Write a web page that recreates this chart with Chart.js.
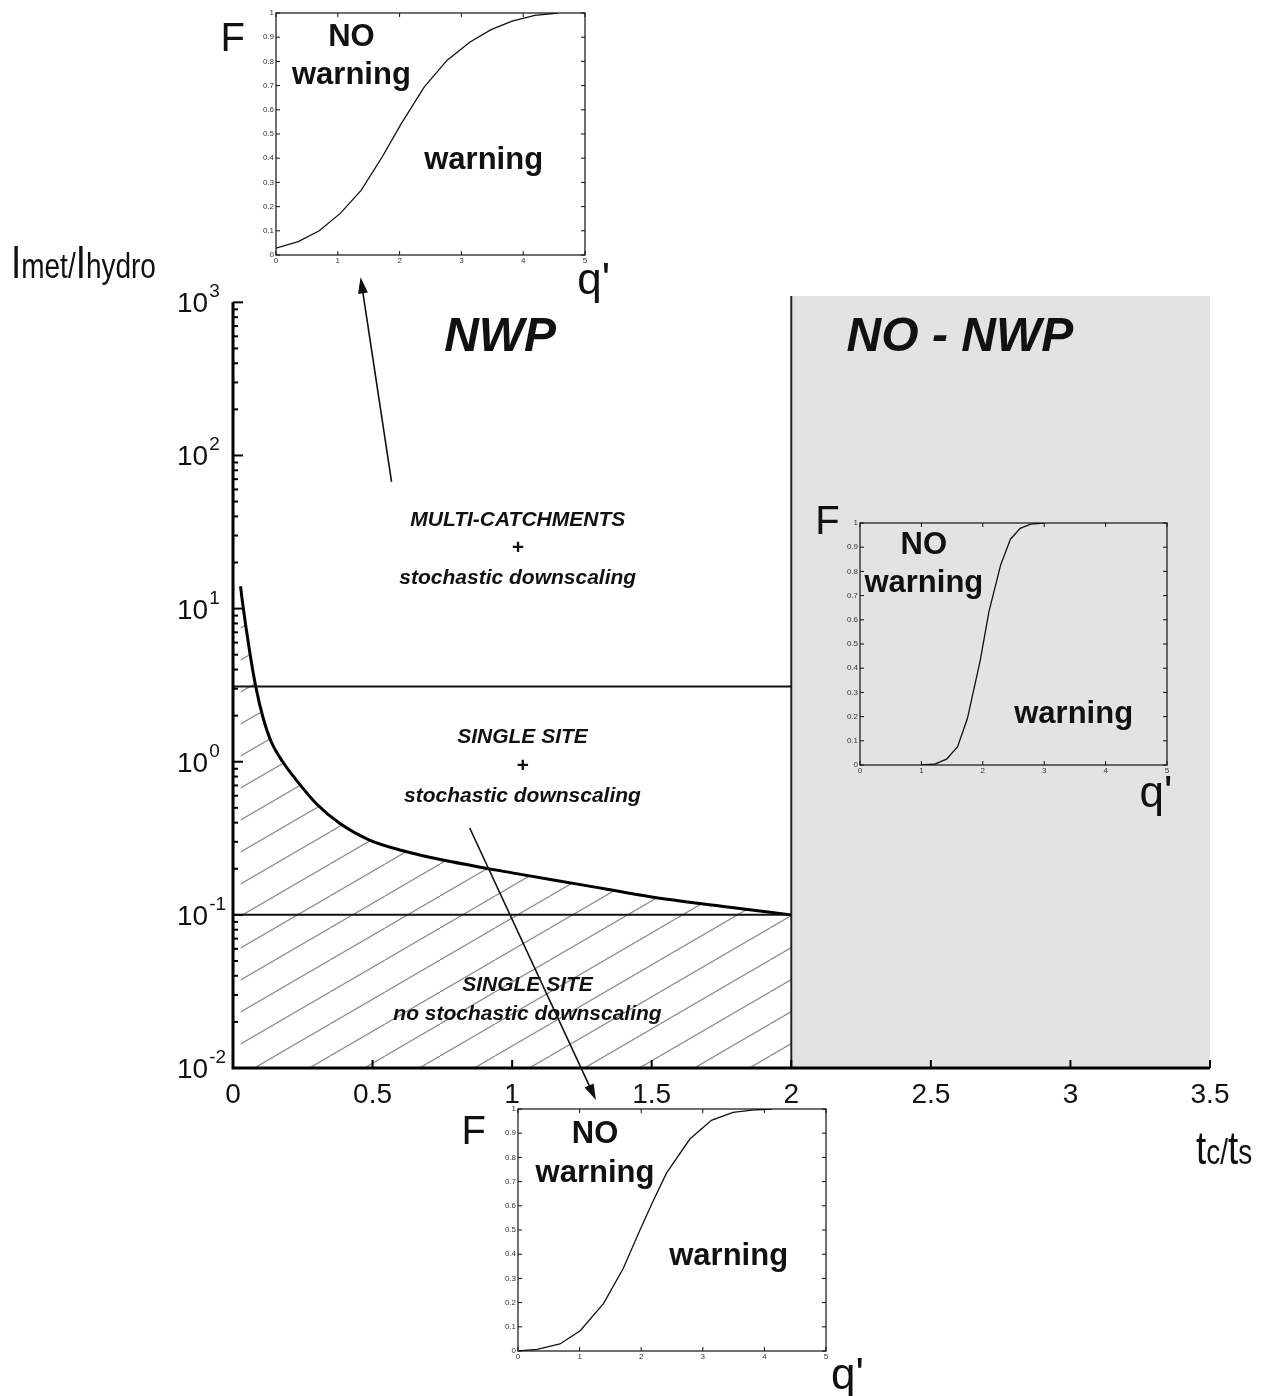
<!DOCTYPE html>
<html>
<head>
<meta charset="utf-8">
<script src="https://cdn.jsdelivr.net/npm/chart.js@4.4.1/dist/chart.umd.min.js"></script>
<style>
  html, body { margin: 0; padding: 0; background: #fff; }
  #wrap { position: relative; width: 1283px; height: 1396px; overflow: hidden; }
  canvas { position: absolute; }
</style>
</head>
<body>
<div id="wrap">
  <canvas id="main" width="1283" height="1396" style="left:0;top:0;width:1283px;height:1396px"></canvas>
  <canvas id="inset-top" width="420" height="310" style="left:210px;top:0;width:420px;height:310px"></canvas>
  <canvas id="inset-right" width="400" height="330" style="left:800px;top:495px;width:400px;height:330px"></canvas>
  <canvas id="inset-bottom" width="430" height="311" style="left:450px;top:1085px;width:430px;height:311px"></canvas>
</div>
<script>
const FONT = '"Liberation Sans", Arial, sans-serif';
Chart.defaults.font.family = FONT;
Chart.defaults.color = "#111";

// main diagram: t_c/t_s against I_met/I_hydro (log)
const ratioX = [0.027, 0.034, 0.059, 0.081, 0.107, 0.137, 0.178, 0.227, 0.298, 0.382, 0.489, 0.609, 0.704, 1.0, 1.25, 1.5, 1.75, 2.0];
const ratioY = [14, 11, 5.35, 3.13, 1.96, 1.35, 1.0, 0.759, 0.534, 0.396, 0.308, 0.262, 0.238, 0.188, 0.157, 0.131, 0.114, 0.1];
const upperLimit = 3.1;
const lowerLimit = 0.1;
const nwpLimit = 2;
const xMax = 3.5;
const yMin = 0.01;
const yMax = 1100;
const decades = [-2, -1, 0, 1, 2, 3];

// inset curves F(q')
const topQ = [0, 0.36, 0.70, 1.04, 1.38, 1.72, 2.03, 2.40, 2.77, 3.14, 3.48, 3.82, 4.19, 4.56];
const topF = [0.028, 0.055, 0.10, 0.172, 0.268, 0.406, 0.544, 0.695, 0.805, 0.88, 0.931, 0.966, 0.99, 1.0];
const rightQ = [0.99, 1.21, 1.41, 1.59, 1.75, 1.96, 2.10, 2.29, 2.45, 2.61, 2.78, 2.99];
const rightF = [0, 0.003, 0.024, 0.076, 0.193, 0.434, 0.634, 0.826, 0.933, 0.978, 0.995, 1.0];
const bottomQ = [0, 0.31, 0.68, 1.01, 1.39, 1.71, 1.98, 2.19, 2.41, 2.79, 3.14, 3.49, 3.87, 4.13];
const bottomF = [0, 0.007, 0.029, 0.084, 0.197, 0.342, 0.5, 0.618, 0.735, 0.876, 0.953, 0.986, 0.997, 1.0];

const pts = (xs, ys) => xs.map((x, i) => ({ x: x, y: ys[i] }));
const plain = (v) => String(+Number(v).toFixed(2));

function hatch() {
  const c = document.createElement("canvas");
  c.width = 55;
  c.height = 32;
  const g = c.getContext("2d");
  g.strokeStyle = "#8a8a8a";
  g.lineWidth = 1.2;
  for (const dx of [-55, 0, 55]) {
    g.beginPath();
    g.moveTo(dx, 32);
    g.lineTo(dx + 55, 0);
    g.stroke();
  }
  return g.createPattern(c, "repeat");
}

// text written in a condensed face, mixing sizes
function narrowText(ctx, parts, x, base) {
  ctx.save();
  ctx.translate(x, base);
  ctx.scale(0.8, 1);
  ctx.textAlign = "left";
  ctx.textBaseline = "alphabetic";
  let cx = 0;
  for (const [t, s] of parts) {
    ctx.font = s + "px " + FONT;
    ctx.fillText(t, cx, 0);
    cx += ctx.measureText(t).width;
  }
  ctx.restore();
}

function arrow(ctx, x1, y1, x2, y2) {
  const a = Math.atan2(y2 - y1, x2 - x1);
  ctx.beginPath();
  ctx.moveTo(x1, y1);
  ctx.lineTo(x2 - 10 * Math.cos(a), y2 - 10 * Math.sin(a));
  ctx.stroke();
  ctx.beginPath();
  ctx.moveTo(x2, y2);
  ctx.lineTo(x2 - 16 * Math.cos(a) + 5 * Math.sin(a), y2 - 16 * Math.sin(a) - 5 * Math.cos(a));
  ctx.lineTo(x2 - 16 * Math.cos(a) - 5 * Math.sin(a), y2 - 16 * Math.sin(a) + 5 * Math.cos(a));
  ctx.closePath();
  ctx.fill();
}

const regionNotes = [
  { text: "NWP", x: 0.957, y: 590, size: 48 },
  { text: "NO - NWP", x: 2.604, y: 590, size: 48 },
  { text: "MULTI-CATCHMENTS", x: 1.02, y: 37.8, size: 21 },
  { text: "+", x: 1.02, y: 24.8, size: 21 },
  { text: "stochastic downscaling", x: 1.02, y: 15.8, size: 21 },
  { text: "SINGLE SITE", x: 1.037, y: 1.447, size: 21 },
  { text: "+", x: 1.037, y: 0.936, size: 21 },
  { text: "stochastic downscaling", x: 1.037, y: 0.596, size: 21 },
  { text: "SINGLE SITE", x: 1.055, y: 0.0348, size: 21 },
  { text: "no stochastic downscaling", x: 1.055, y: 0.0225, size: 21 },
];

const arrows = [
  [0.568, 67.2, 0.457, 1456],
  [0.848, 0.369, 1.30, 0.00618],
];

const mainDecor = {
  id: "mainDecor",
  afterDatasetsDraw(chart) {
    const { ctx } = chart;
    const x = chart.scales.x;
    const y = chart.scales.y;
    const x0 = x.getPixelForValue(0);
    const yBot = y.getPixelForValue(yMin);
    const yTop = y.getPixelForValue(1000);
    const xEnd = x.getPixelForValue(xMax);
    ctx.save();
    ctx.strokeStyle = "#000";
    ctx.fillStyle = "#111";
    ctx.lineWidth = 3;
    ctx.beginPath();
    ctx.moveTo(x0, yTop);
    ctx.lineTo(x0, yBot);
    ctx.lineTo(xEnd, yBot);
    ctx.stroke();

    ctx.lineWidth = 2;
    decades.forEach((d) => {
      for (let m = 1; m < 10; m++) {
        if (d === 3 && m > 1) break;
        const py = y.getPixelForValue(m * Math.pow(10, d));
        ctx.beginPath();
        ctx.moveTo(x0, py);
        ctx.lineTo(x0 + (m === 1 ? 10 : 5), py);
        ctx.stroke();
      }
    });
    x.ticks.forEach((t) => {
      const px = x.getPixelForValue(t.value);
      ctx.beginPath();
      ctx.moveTo(px, yBot);
      ctx.lineTo(px, yBot - 8);
      ctx.stroke();
    });

    // decade labels 10^n
    decades.forEach((d) => {
      const py = y.getPixelForValue(Math.pow(10, d));
      ctx.textAlign = "left";
      ctx.textBaseline = "alphabetic";
      ctx.font = "28px " + FONT;
      ctx.fillText("10", 177, py + 10);
      const w = ctx.measureText("10").width;
      ctx.font = "19px " + FONT;
      ctx.fillText(String(d), 177 + w + 1, py - 5);
    });

    // axis titles
    narrowText(ctx, [["I", 46], ["met/", 35], ["I", 46], ["hydro", 35]], 11, 278);
    narrowText(ctx, [["t", 46], ["c/", 35], ["t", 46], ["s", 35]], 1196, 1164);

    ctx.textAlign = "center";
    ctx.textBaseline = "middle";
    regionNotes.forEach((n) => {
      ctx.font = "italic bold " + n.size + "px " + FONT;
      ctx.fillText(n.text, x.getPixelForValue(n.x), y.getPixelForValue(n.y));
    });

    ctx.strokeStyle = "#111";
    ctx.lineWidth = 1.6;
    arrows.forEach((a) => {
      arrow(ctx, x.getPixelForValue(a[0]), y.getPixelForValue(a[1]),
        x.getPixelForValue(a[2]), y.getPixelForValue(a[3]));
    });
    ctx.restore();
  },
};

new Chart(document.getElementById("main"), {
  type: "line",
  data: {
    datasets: [
      {
        data: pts(ratioX, ratioY),
        borderColor: "#000",
        borderWidth: 3,
        fill: "start",
        backgroundColor: hatch(),
        pointRadius: 0,
        cubicInterpolationMode: "monotone",
        order: 1,
      },
      {
        data: pts([0, nwpLimit], [upperLimit, upperLimit]),
        borderColor: "#111",
        borderWidth: 2,
        pointRadius: 0,
        order: 0,
      },
      {
        data: pts([0, nwpLimit], [lowerLimit, lowerLimit]),
        borderColor: "#111",
        borderWidth: 2,
        pointRadius: 0,
        order: 0,
      },
      {
        data: pts([nwpLimit, nwpLimit], [yMin, yMax]),
        borderColor: "#222",
        borderWidth: 2,
        pointRadius: 0,
        order: 0,
      },
      {
        data: pts([nwpLimit, xMax], [yMax, yMax]),
        borderColor: "rgba(0,0,0,0)",
        borderWidth: 1,
        fill: "start",
        backgroundColor: "#e3e3e3",
        pointRadius: 0,
        order: 5,
      },
    ],
  },
  options: {
    responsive: false,
    animation: false,
    layout: { padding: { left: 233, right: 73, top: 296, bottom: 288 } },
    plugins: { legend: { display: false }, tooltip: { enabled: false } },
    scales: {
      x: {
        type: "linear",
        min: 0,
        max: xMax,
        grid: { display: false, drawTicks: false },
        border: { display: false },
        ticks: { stepSize: 0.5, maxRotation: 0, padding: 10, color: "#111", font: { size: 28 }, callback: plain },
        afterFit: (s) => { s.height = 40; },
      },
      y: {
        type: "logarithmic",
        min: yMin,
        max: yMax,
        grid: { display: false, drawTicks: false },
        border: { display: false },
        ticks: { display: false },
        afterFit: (s) => { s.width = 0; },
      },
    },
  },
  plugins: [mainDecor],
});

// insets
const insetFrame = {
  id: "insetFrame",
  afterDraw(chart, args, opts) {
    const { ctx, chartArea: a } = chart;
    const x = chart.scales.x;
    const y = chart.scales.y;
    ctx.save();
    ctx.strokeStyle = "#111";
    ctx.lineWidth = 1.2;
    ctx.strokeRect(a.left, a.top, a.right - a.left, a.bottom - a.top);
    ctx.lineWidth = 1;
    x.ticks.forEach((t) => {
      const px = x.getPixelForValue(t.value);
      ctx.beginPath();
      ctx.moveTo(px, a.bottom); ctx.lineTo(px, a.bottom - 4);
      ctx.moveTo(px, a.top); ctx.lineTo(px, a.top + 4);
      ctx.stroke();
    });
    y.ticks.forEach((t) => {
      const py = y.getPixelForValue(t.value);
      ctx.beginPath();
      ctx.moveTo(a.left, py); ctx.lineTo(a.left + 4, py);
      ctx.moveTo(a.right, py); ctx.lineTo(a.right - 4, py);
      ctx.stroke();
    });
    ctx.fillStyle = "#111";
    ctx.textAlign = "center";
    ctx.textBaseline = "middle";
    opts.notes.forEach((n) => {
      ctx.font = n.font + " " + FONT;
      ctx.fillText(n.text, x.getPixelForValue(n.q), y.getPixelForValue(n.f));
    });
    ctx.restore();
  },
};

function makeInset(id, q, F, notes) {
  const cv = document.getElementById(id);
  const plot = JSON.parse(cv.dataset.plot);
  const cl = parseFloat(cv.style.left), ct = parseFloat(cv.style.top);
  const YW = 18, XH = 12;
  const padding = {
    left: plot[0] - cl - YW,
    right: cl + cv.width - plot[1],
    top: plot[2] - ct,
    bottom: ct + cv.height - plot[3] - XH,
  };
  return new Chart(cv, {
    type: "line",
    data: {
      datasets: [{
        data: pts(q, F),
        borderColor: "#111",
        borderWidth: 1.3,
        pointRadius: 0,
        tension: 0,
      }],
    },
    options: {
      responsive: false,
      animation: false,
      layout: { padding: padding },
      plugins: { legend: { display: false }, tooltip: { enabled: false }, insetFrame: { notes: notes } },
      scales: {
        x: {
          type: "linear", min: 0, max: 5,
          grid: { display: false, drawTicks: false },
          border: { display: false },
          ticks: { stepSize: 1, maxRotation: 0, padding: 1, color: "#333", font: { size: 8 }, callback: plain },
          afterFit: (s) => { s.height = XH; },
        },
        y: {
          type: "linear", min: 0, max: 1,
          grid: { display: false, drawTicks: false },
          border: { display: false },
          ticks: { stepSize: 0.1, padding: 2, color: "#333", font: { size: 8 }, callback: plain },
          afterFit: (s) => { s.width = YW; },
        },
      },
    },
    plugins: [insetFrame],
  });
}

document.getElementById("inset-top").dataset.plot = "[276, 585, 13, 255]";
document.getElementById("inset-right").dataset.plot = "[860, 1167, 523, 765]";
document.getElementById("inset-bottom").dataset.plot = "[518, 826, 1109, 1351]";

makeInset("inset-top", topQ, topF, [
  { text: "F", q: -0.7, f: 0.89, font: "40px" },
  { text: "NO", q: 1.22, f: 0.9, font: "bold 31px" },
  { text: "warning", q: 1.22, f: 0.743, font: "bold 31px" },
  { text: "warning", q: 3.36, f: 0.392, font: "bold 31px" },
  { text: "q'", q: 5.14, f: -0.11, font: "44px" },
]);
makeInset("inset-right", rightQ, rightF, [
  { text: "F", q: -0.53, f: 1.0, font: "40px" },
  { text: "NO", q: 1.04, f: 0.909, font: "bold 31px" },
  { text: "warning", q: 1.04, f: 0.75, font: "bold 31px" },
  { text: "warning", q: 3.48, f: 0.207, font: "bold 31px" },
  { text: "q'", q: 4.82, f: -0.124, font: "44px" },
]);
makeInset("inset-bottom", bottomQ, bottomF, [
  { text: "F", q: -0.72, f: 0.9, font: "40px" },
  { text: "NO", q: 1.25, f: 0.894, font: "bold 31px" },
  { text: "warning", q: 1.25, f: 0.735, font: "bold 31px" },
  { text: "warning", q: 3.42, f: 0.39, font: "bold 31px" },
  { text: "q'", q: 5.35, f: -0.106, font: "44px" },
]);
</script>
</body>
</html>
